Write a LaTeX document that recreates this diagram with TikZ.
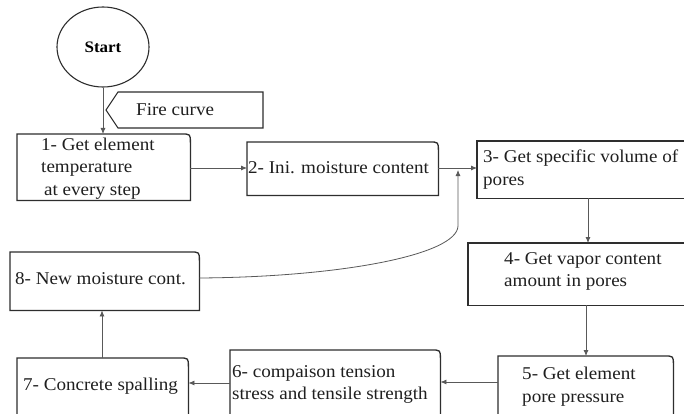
\documentclass[tikz,border=0pt]{standalone}
\usepackage{fontspec}
\setmainfont{Liberation Serif}[FakeStretch=1.06]
\usetikzlibrary{shapes.geometric,arrows.meta,calc}
\newcommand\rtbox[2][9]{%
  \draw[frame] (#2.south west) -- (#2.north west) -- ($(#2.north east)+(-#1,0)$)
    .. controls (#2.north east) .. ($(#2.north east)+(0,#1)$) -- (#2.south east) -- cycle;}
\newcommand\sqbox[1]{\draw[frame] (#1.south west) rectangle (#1.north east);}
\begin{document}
\begin{tikzpicture}[x=1pt,y=-1pt,
  frame/.style={draw=black!82,line width=1.3pt},
  arr/.style={draw=black!65,line width=0.8pt,-{Latex[length=6pt,width=5pt]}},
  area/.style={rectangle,draw=none,inner sep=0pt,anchor=north west},
  txt/.style={anchor=west,align=left,inner sep=0pt,text=black!88,
    font=\fontsize{18}{22.5}\selectfont}]
\clip (0,0) rectangle (684,414);
\fill[white] (0,0) rectangle (684,414);

% start
\node[ellipse,draw=black!82,line width=1.1pt,minimum width=92pt,minimum height=80pt,inner sep=0pt,
  font=\fontsize{16}{20}\selectfont\bfseries] (start) at (103,47) {Start};

% fire curve
\coordinate (fctip) at (106,110);
\draw[frame,line width=1.1pt] (fctip) -- (118,92) -- (263,92) -- (263,128) -- (118,128) -- cycle;
\node[txt] (fctext) at (136,110) {Fire curve};

% boxes (geometry)
\node[area,minimum width=173pt,minimum height=66pt] (b1) at (17,134) {};
\node[area,minimum width=191pt,minimum height=53pt] (b2) at (247,142) {};
\node[area,minimum width=223pt,minimum height=57pt] (b3) at (477,141) {};
\node[area,minimum width=232pt,minimum height=62pt] (b4) at (468,243) {};
\node[area,minimum width=175pt,minimum height=74pt] (b5) at (498,356) {};
\node[area,minimum width=210pt,minimum height=80pt] (b6) at (230,350) {};
\node[area,minimum width=171pt,minimum height=72pt] (b7) at (17,358) {};
\node[area,minimum width=189pt,minimum height=58pt] (b8) at (10,252) {};

\rtbox{b1}
\rtbox{b2}
\sqbox{b3}
\sqbox{b4}
\rtbox{b5}
\rtbox{b6}
\rtbox{b7}
\rtbox{b8}

% texts
\node[txt] (t1) at (41,168.5) {1- Get element\\temperature\\\hspace{3pt}at every step};
\node[txt] (t2) at (248,168) {2- Ini. moisture content};
\node[txt] (t3) at (483,169.5) {3- Get specific volume of\\pores};
\node[txt] (t4) at (504,271.5) {4- Get vapor content\\amount in pores};
\node[txt] (t5) at (522,386.5) {5- Get element\\pore pressure};
\node[txt] (t6) at (232,384.5) {6- compaison tension\\stress and tensile strength};
\node[txt] (t7) at (23,386) {7- Concrete spalling};
\node[txt] (t8) at (15,279) {8- New moisture cont.};

% connectors
\coordinate (merge) at (458,170);
\draw[arr] (start.south) -- (start.south |- b1.north);
\draw[arr] (b1.east |- 0,168) -- (b2.west |- 0,168);
\draw[arr] (b2.east |- 0,168) -- (b3.west |- 0,168);
\draw[arr] (b3.south -| 588,0) -- (b4.north -| 588,0);
\draw[arr] (b4.south -| 586,0) -- (b5.north -| 586,0);
\draw[arr] (b5.west |- 0,382) -- (b6.east |- 0,382);
\draw[arr] (b6.west |- 0,383) -- (b7.east |- 0,383);
\draw[arr] (b7.north -| 102,0) -- (b8.south -| 102,0);
\draw[arr] (b8.east |- 0,278) .. controls (340,277) and (457,255) .. (458,226) -- (merge);
\end{tikzpicture}
\end{document}
